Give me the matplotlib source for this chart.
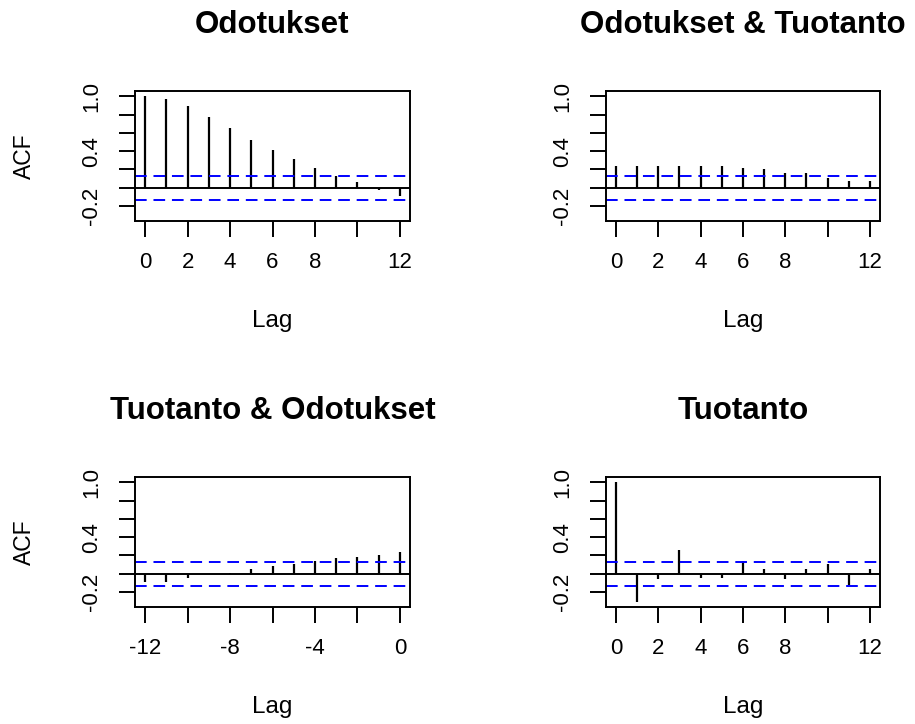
import numpy as np
import matplotlib
matplotlib.use("Agg")
from matplotlib import pyplot as plt

plt.rcParams['font.family'] = ['Liberation Sans', 'DejaVu Sans']

# ACF values (bivariate acf, lag.max = 12)
lags_pos = list(range(0, 13))
lags_neg = list(range(-12, 1))

acf_odotukset = [1.0, 0.965, 0.889, 0.772, 0.656, 0.525, 0.408, 0.313, 0.215,
                 0.131, 0.066, -0.022, -0.087]
acf_odo_tuo = [0.237, 0.237, 0.237, 0.237, 0.237, 0.237, 0.219, 0.200, 0.164,
               0.164, 0.106, 0.069, 0.069]
acf_tuo_odo = [-0.087, -0.087, -0.044, -0.005, 0.003, 0.051, 0.087, 0.109,
               0.138, 0.167, 0.185, 0.204, 0.237]
acf_tuotanto = [1.0, -0.309, -0.062, 0.262, -0.044, -0.044, 0.138, 0.051,
                -0.062, 0.051, 0.109, -0.127, 0.051]

titles = ["Odotukset", "Odotukset & Tuotanto", "Tuotanto & Odotukset", "Tuotanto"]
conf_limit = 0.133

yticks = [-0.2, 0.0, 0.2, 0.4, 0.6, 0.8, 1.0]
ytick_labels = ["-0.2", "", "", "0.4", "", "", "1.0"]
xticks_pos = [0, 2, 4, 6, 8, 10, 12]
xtick_labels_pos = ["0", "2", "4", "6", "8", "", "12"]
xticks_neg = [-12, -10, -8, -6, -4, -2, 0]
xtick_labels_neg = ["-12", "", "-8", "", "-4", "", "0"]

W, H = 915, 724
fig = plt.figure(figsize=(9.15, 7.24), dpi=100)

# panel boxes in pixels: left, top, width, height
boxes = [(135, 90.7, 275, 130), (605.7, 90.7, 274.3, 130),
         (135, 476.7, 275, 130), (605.7, 476.7, 274.3, 130)]
panels = [(lags_pos, acf_odotukset), (lags_pos, acf_odo_tuo),
          (lags_neg, acf_tuo_odo), (lags_pos, acf_tuotanto)]

fs = 16
for i, (box, (lags, vals), title) in enumerate(zip(boxes, panels, titles)):
    l, t, w, h = box
    ax = fig.add_axes([l / W, 1 - (t + h) / H, w / W, h / H])
    ax.vlines(lags, 0, vals, color="black", lw=1.6)
    ax.axhline(0, color="black", lw=1.4)
    ax.axhline(conf_limit, color="#0000FF", lw=1.4, ls=(0, (6, 3.5)))
    ax.axhline(-conf_limit, color="#0000FF", lw=1.4, ls=(0, (6, 3.5)))
    if lags[0] < 0:
        ax.set_xlim(-12.48, 0.48)
        ax.set_xticks(xticks_neg)
        ax.set_xticklabels(xtick_labels_neg)
    else:
        ax.set_xlim(-0.48, 12.48)
        ax.set_xticks(xticks_pos)
        ax.set_xticklabels(xtick_labels_pos)
    ax.set_ylim(-0.36, 1.06)
    ax.set_yticks(yticks)
    ax.set_yticklabels(ytick_labels, rotation=90, va="center")
    for s in ax.spines.values():
        s.set_linewidth(1.4)
    ax.tick_params(axis="both", length=11.5, width=1.4, labelsize=fs)
    ax.tick_params(axis="x", pad=11)
    ax.tick_params(axis="y", pad=12)
    ax.set_xlabel("Lag", fontsize=17.5, va="center")
    ax.xaxis.set_label_coords(0.5, -100 / h)
    if i % 2 == 0:
        ax.set_ylabel("ACF", fontsize=16.5, va="center")
        ax.yaxis.set_label_coords(-111 / w, 0.5)
    ax.set_title(title, fontsize=22.5, fontweight="bold", y=1 + 66 / h,
                 va="center", pad=0)

plt.savefig("out.png", dpi=100)
